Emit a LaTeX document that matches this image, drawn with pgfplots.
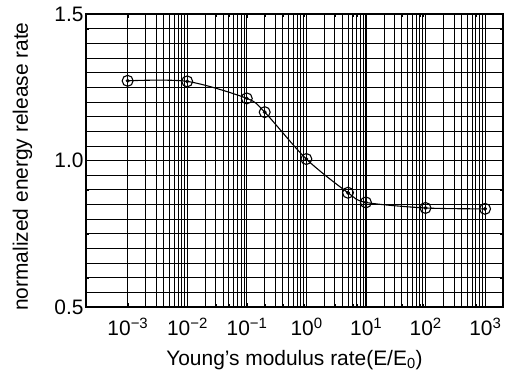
\documentclass[border=0pt]{standalone}
\usepackage{fontspec}
\setmainfont{Liberation Sans}
\usepackage{pgfplots}
\pgfplotsset{compat=1.18}
\newcommand\E[1]{10\raisebox{7bp}{\fontsize{15}{18}\selectfont #1}}
\begin{document}
\begin{tikzpicture}
\begin{axis}[name=ax, scale only axis, width=417bp, height=293bp,
 xmode=log, xmin=2e-4, xmax=2e3, ymin=0.5, ymax=1.5,
 xtick={1e-3,1e-2,1e-1,1,1e1,1e2,1e3},
 xticklabels={\E{−3},\E{−2},\E{−1},\E{0},\E{1},\E{2},\E{3}},
 ytick={0.5,1,1.5}, yticklabels={0.5,1.0,1.5},
 minor y tick num=9,
 grid=both,
 major grid style={black, line width=0.9pt},
 minor grid style={black, line width=0.7pt},
 axis line style={black, line width=1.2pt},
 tick style={black},
 tick align=inside,
 ticklabel style={font=\fontsize{21}{25}\selectfont},
 xticklabel style={anchor=base, yshift=-28bp},
 yticklabel style={xshift=1bp},
 label style={font=\fontsize{21}{25}\selectfont},
 xlabel={Young's modulus rate(E/E\textsubscript{0})},
 xlabel style={at={(axis description cs:0.5,-0.198)}, anchor=base},
 ylabel={normalized energy release rate},
 ylabel style={at={(axis description cs:-0.1391,0.4795)}, anchor=base},
]
\addplot[black, line width=1.1pt, smooth, mark=o, mark size=5.5pt, mark options={line width=1.1pt, solid}] coordinates {(1e-3,1.272)(1e-2,1.27)(1e-1,1.212)(0.2,1.165)(1,1.005)(5,0.89)(10,0.857)(100,0.838)(1000,0.835)};
\addplot[black, only marks, mark=*, mark size=1.8pt] coordinates {(1e-3,1.272)(1e-2,1.27)(1e-1,1.212)(0.2,1.165)(1,1.005)(5,0.89)(10,0.857)(100,0.838)(1000,0.835)};
\end{axis}
\pgfresetboundingbox
\path ([shift={(-86bp,-70bp)}]ax.south west) rectangle ([shift={(9bp,14bp)}]ax.north east);
\end{tikzpicture}
\end{document}
